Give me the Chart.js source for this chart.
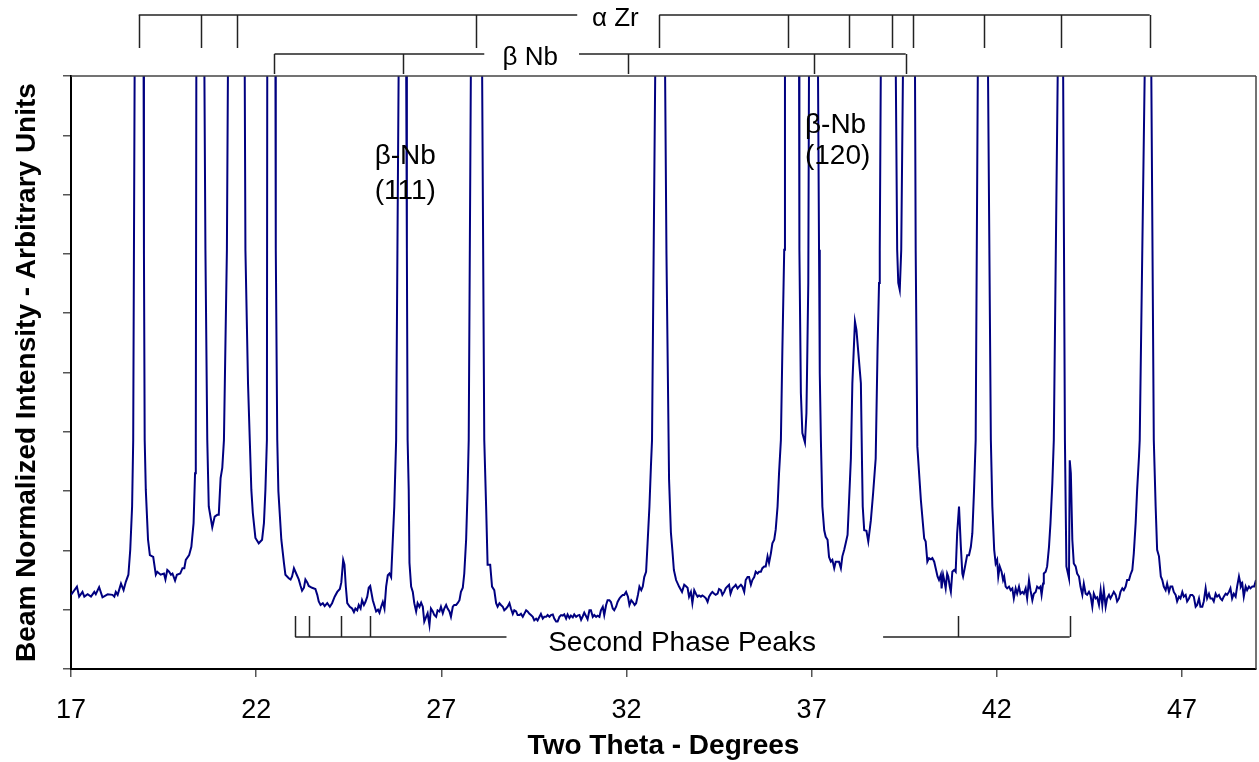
<!DOCTYPE html>
<html>
<head>
<meta charset="utf-8">
<title>Diffraction scan - alpha Zr / beta Nb</title>
<script src="https://cdn.jsdelivr.net/npm/chart.js@4.4.1/dist/chart.umd.min.js"></script>
<style>
    html, body { margin: 0; padding: 0; background: #fff; }
    #wrap { width: 1259px; height: 762px; }
</style>
</head>
<body>
<div id="wrap"><canvas id="scan" width="1259" height="762"></canvas></div>
<script>
/* ============================================= */
/*                  SCAN DATA                    */
/* ============================================= */

// Two theta (degrees); peak tops run off the top of the axis
const twoTheta = [
    17.00, 17.16, 17.22, 17.31, 17.36, 17.45, 17.54, 17.63, 17.67, 17.76, 17.85, 17.99,
    18.12, 18.17, 18.21, 18.26, 18.35, 18.42, 18.48, 18.55, 18.60, 18.65, 18.68,
    18.72, 18.84, 18.96, 18.97, 18.99, 19.02, 19.08, 19.13, 19.22, 19.29, 19.33, 19.42,
    19.51, 19.55, 19.60, 19.65, 19.70, 19.74, 19.81, 19.86, 19.95, 20.01, 20.06, 20.10,
    20.19, 20.25, 20.31, 20.35, 20.37, 20.385, 20.49, 20.60, 20.63, 20.68, 20.72, 20.815,
    20.88, 20.95, 20.99, 21.04, 21.085, 21.13, 21.21, 21.24, 21.47, 21.69, 21.71, 21.78,
    21.87, 21.91, 21.98, 22.07, 22.16, 22.21, 22.25, 22.29, 22.30, 22.41, 22.52, 22.53,
    22.57, 22.60, 22.68, 22.75, 22.79, 22.88, 22.93, 22.97, 23.02, 23.06, 23.15, 23.20,
    23.24, 23.29, 23.33, 23.38, 23.42, 23.51, 23.60, 23.65, 23.69, 23.74, 23.80, 23.85,
    23.92, 23.99, 24.05, 24.12, 24.19, 24.26, 24.30, 24.35, 24.385, 24.42, 24.46, 24.53,
    24.59, 24.64, 24.68, 24.73, 24.77, 24.82, 24.86, 24.91, 24.95, 25.00, 25.04, 25.08,
    25.15, 25.24, 25.29, 25.33, 25.375, 25.42, 25.465, 25.51, 25.555, 25.60, 25.645, 25.69,
    25.73, 25.78, 25.85, 25.95, 26.05, 26.07, 26.09, 26.12, 26.14, 26.185, 26.23, 26.27,
    26.32, 26.36, 26.41, 26.455, 26.50, 26.54, 26.59, 26.63, 26.68, 26.72, 26.77, 26.81,
    26.86, 26.90, 26.95, 26.99, 27.04, 27.08, 27.13, 27.17, 27.22, 27.26, 27.31, 27.35,
    27.40, 27.44, 27.49, 27.53, 27.58, 27.62, 27.67, 27.71, 27.74, 27.80, 27.95, 28.10,
    28.16, 28.21, 28.25, 28.32, 28.37, 28.43, 28.48, 28.52, 28.57, 28.61, 28.66, 28.70,
    28.75, 28.79, 28.84, 28.88, 28.93, 28.97, 29.02, 29.06, 29.11, 29.15, 29.20, 29.24,
    29.29, 29.33, 29.38, 29.42, 29.47, 29.51, 29.56, 29.60, 29.65, 29.69, 29.74, 29.78,
    29.83, 29.87, 29.92, 29.96, 30.01, 30.05, 30.10, 30.14, 30.19, 30.235, 30.28, 30.32,
    30.37, 30.41, 30.46, 30.50, 30.55, 30.59, 30.64, 30.68, 30.73, 30.775, 30.82, 30.86,
    30.91, 30.95, 31.00, 31.04, 31.09, 31.13, 31.18, 31.22, 31.27, 31.31, 31.36, 31.40,
    31.45, 31.49, 31.54, 31.58, 31.63, 31.67, 31.72, 31.76, 31.81, 31.85, 31.90, 31.94,
    31.99, 32.04, 32.08, 32.13, 32.17, 32.22, 32.26, 32.31, 32.35, 32.40, 32.44, 32.48,
    32.53, 32.57, 32.62, 32.66, 32.69, 32.78, 32.91, 33.04, 33.08, 33.15, 33.20, 33.24,
    33.28, 33.34, 33.42, 33.50, 33.56, 33.60, 33.65, 33.69, 33.74, 33.78, 33.83, 33.875,
    33.92, 33.96, 34.01, 34.05, 34.10, 34.145, 34.19, 34.23, 34.28, 34.32, 34.37, 34.41,
    34.46, 34.50, 34.55, 34.59, 34.64, 34.68, 34.72, 34.77, 34.81, 34.86, 34.91, 34.95,
    35.00, 35.04, 35.09, 35.13, 35.18, 35.22, 35.27, 35.31, 35.36, 35.40, 35.45, 35.49,
    35.54, 35.58, 35.63, 35.67, 35.72, 35.76, 35.81, 35.85, 35.90, 35.94, 35.99, 36.03,
    36.08, 36.12, 36.17, 36.21, 36.26, 36.28, 36.47, 36.66, 36.67, 36.71, 36.75, 36.82,
    36.86, 36.885, 36.91, 36.93, 37.05, 37.17, 37.20, 37.22, 37.25, 37.29, 37.34, 37.38,
    37.43, 37.47, 37.52, 37.56, 37.61, 37.65, 37.70, 37.74, 37.79, 37.83, 37.88, 37.92,
    37.97, 38.01, 38.06, 38.10, 38.17, 38.21, 38.33, 38.36, 38.38, 38.42, 38.48, 38.53,
    38.60, 38.66, 38.73, 38.78, 38.82, 38.84, 38.87, 39.07, 39.27, 39.31, 39.34, 39.38,
    39.42, 39.47, 39.63, 39.79, 39.81, 39.855, 39.95, 40.04, 40.08, 40.125, 40.17, 40.22,
    40.26, 40.31, 40.35, 40.40, 40.44, 40.49, 40.51, 40.55, 40.58, 40.62, 40.66, 40.69,
    40.73, 40.76, 40.80, 40.85, 40.89, 40.93, 40.98, 41.03, 41.07, 41.09, 41.14, 41.20,
    41.25, 41.30, 41.34, 41.385, 41.43, 41.49, 41.625, 41.76, 41.84, 41.88, 41.93, 41.97,
    42.01, 42.04, 42.08, 42.13, 42.17, 42.20, 42.24, 42.28, 42.33, 42.375, 42.42, 42.46,
    42.51, 42.55, 42.60, 42.64, 42.69, 42.73, 42.78, 42.82, 42.87, 42.91, 42.96, 43.00,
    43.05, 43.09, 43.14, 43.18, 43.21, 43.25, 43.27, 43.32, 43.36, 43.41, 43.45, 43.50,
    43.54, 43.65, 43.72, 43.79, 43.84, 43.88, 43.95, 43.97, 44.00, 44.04, 44.08, 44.13,
    44.17, 44.22, 44.26, 44.31, 44.35, 44.40, 44.44, 44.49, 44.53, 44.58, 44.62, 44.67,
    44.71, 44.76, 44.805, 44.85, 44.89, 44.94, 44.98, 45.03, 45.07, 45.12, 45.16, 45.21,
    45.25, 45.30, 45.34, 45.39, 45.43, 45.48, 45.52, 45.57, 45.61, 45.66, 45.70, 45.75,
    45.79, 45.84, 45.86, 46.00, 46.085, 46.17, 46.24, 46.29, 46.33, 46.38, 46.43, 46.47,
    46.51, 46.56, 46.60, 46.65, 46.69, 46.74, 46.78, 46.83, 46.87, 46.92, 46.96, 47.01,
    47.05, 47.10, 47.14, 47.19, 47.23, 47.28, 47.32, 47.37, 47.41, 47.46, 47.50, 47.55,
    47.59, 47.64, 47.68, 47.73, 47.77, 47.82, 47.86, 47.91, 47.95, 48.00, 48.04, 48.085,
    48.13, 48.18, 48.22, 48.27, 48.31, 48.355, 48.40, 48.45, 48.49, 48.54, 48.57, 48.59,
    48.63, 48.67, 48.72, 48.76, 48.81, 48.85, 48.90, 48.95, 49.00
];

// Beam normalized intensity (arbitrary units, axis runs 0..10)
const intensity = [
    1.25, 1.39, 1.22, 1.30, 1.22, 1.26, 1.22, 1.30, 1.26, 1.38, 1.21, 1.26,
    1.25, 1.22, 1.30, 1.25, 1.44, 1.33, 1.47, 1.59, 2.01, 2.74, 3.86,
    10.3, 13, 10.3, 7.0, 3.86, 3.02, 2.18, 1.92, 1.89, 1.59, 1.64, 1.59,
    1.61, 1.51, 1.67, 1.64, 1.59, 1.61, 1.49, 1.59, 1.61, 1.70, 1.70, 1.84,
    1.92, 2.06, 2.46, 3.30, 3.86, 10.3, 13, 10.3, 7.07, 3.86, 2.74, 2.39,
    2.57, 2.60, 2.60, 3.22, 3.39, 3.86, 7.07, 10.3, 13, 10.3, 7.07, 4.82,
    3.02, 2.63, 2.21, 2.12, 2.18, 2.46, 3.02, 3.86, 10.3, 13, 10.3, 7.07,
    3.86, 3.00, 2.18, 1.79, 1.59, 1.53, 1.51, 1.56, 1.70, 1.64, 1.51, 1.40,
    1.32, 1.37, 1.51, 1.46, 1.40, 1.37, 1.35, 1.25, 1.14, 1.08, 1.11, 1.06,
    1.11, 1.05, 1.11, 1.22, 1.30, 1.35, 1.46, 1.84, 1.76, 1.40, 1.11, 1.05,
    1.02, 0.96, 1.02, 0.99, 1.08, 1.02, 1.16, 1.08, 1.13, 1.22, 1.37, 1.40,
    1.16, 0.97, 1.00, 0.95, 1.05, 1.13, 1.02, 1.39, 1.58, 1.61, 1.55, 2.18,
    2.74, 3.86, 10.3, 13, 10.3, 7.07, 3.86, 3.02, 1.79, 1.39, 1.30, 1.11,
    0.97, 1.11, 1.05, 1.12, 1.05, 0.80, 0.88, 0.94, 0.74, 1.02, 0.97, 0.91,
    0.88, 0.99, 0.97, 1.05, 0.94, 1.02, 1.08, 1.02, 0.97, 0.88, 1.05, 1.08,
    1.08, 1.11, 1.16, 1.30, 1.37, 1.61, 2.18, 3.02, 3.86, 10.3, 13, 10.3,
    3.86, 2.74, 1.76, 1.76, 1.39, 1.33, 1.11, 1.05, 1.11, 1.08, 1.05, 0.99,
    1.02, 1.05, 1.11, 1.02, 0.93, 0.99, 0.97, 0.91, 0.91, 0.93, 0.88, 0.93,
    0.99, 0.97, 0.93, 0.91, 0.88, 0.82, 0.85, 0.82, 0.88, 0.93, 0.85, 0.88,
    0.88, 0.91, 0.88, 0.91, 0.92, 0.85, 0.80, 0.80, 0.88, 0.91, 0.90, 0.92,
    0.85, 0.92, 0.86, 0.90, 0.87, 0.92, 0.88, 0.90, 0.91, 0.83, 0.89, 0.95,
    0.89, 0.84, 0.99, 0.99, 0.88, 0.91, 0.88, 0.90, 0.88, 0.99, 1.05, 0.91,
    1.08, 1.16, 1.16, 1.13, 1.02, 0.99, 1.05, 1.13, 1.19, 1.22, 1.25, 1.25,
    1.30, 1.22, 1.08, 1.16, 1.13, 1.08, 1.11, 1.25, 1.39, 1.33, 1.39, 1.55,
    1.64, 2.12, 2.74, 3.41, 3.86, 10.3, 13, 10.3, 7.0, 3.2, 2.3, 2.0,
    1.67, 1.50, 1.39, 1.30, 1.42, 1.40, 1.37, 1.22, 1.30, 1.11, 1.33, 1.27,
    1.22, 1.24, 1.22, 1.24, 1.22, 1.19, 1.13, 1.22, 1.27, 1.30, 1.27, 1.25,
    1.27, 1.35, 1.33, 1.25, 1.30, 1.36, 1.39, 1.42, 1.27, 1.36, 1.39, 1.42,
    1.36, 1.39, 1.42, 1.39, 1.30, 1.50, 1.55, 1.55, 1.42, 1.50, 1.55, 1.64,
    1.61, 1.64, 1.64, 1.70, 1.73, 1.73, 1.90, 1.79, 1.95, 2.12, 2.18, 2.35,
    2.74, 3.30, 3.86, 5.38, 7.07, 10.3, 13, 10.3, 7.07, 4.65, 3.98, 3.82,
    4.32, 5.38, 6.51, 10.3, 13, 10.3, 7.07, 4.99, 3.86, 2.74, 2.34, 2.23,
    2.18, 1.89, 1.81, 1.84, 1.70, 1.81, 1.81, 1.81, 1.70, 1.90, 2.01, 2.12,
    2.26, 2.82, 3.55, 4.82, 5.86, 5.72, 4.82, 3.50, 2.74, 2.34, 2.33, 2.15,
    2.51, 2.96, 3.55, 5.38, 6.51, 7.07, 10.3, 13, 10.3, 7.07, 6.51, 6.39,
    7.07, 10.3, 13, 10.3, 7.07, 3.75, 2.85, 2.20, 2.15, 1.81, 1.87, 1.85,
    1.87, 1.81, 1.70, 1.56, 1.50, 1.59, 1.36, 1.59, 1.50, 1.36, 1.61, 1.56,
    1.39, 1.30, 1.64, 1.67, 1.64, 2.29, 2.74, 2.06, 1.61, 1.56, 1.72, 1.92,
    1.92, 2.06, 2.29, 3.00, 3.86, 10.3, 13, 10.3, 3.86, 2.74, 2.01, 1.78,
    1.84, 1.56, 1.73, 1.64, 1.50, 1.56, 1.39, 1.36, 1.39, 1.33, 1.36, 1.19,
    1.36, 1.27, 1.39, 1.27, 1.30, 1.27, 1.36, 1.19, 1.50, 1.33, 1.16, 1.27,
    1.30, 1.39, 1.36, 1.39, 1.25, 1.44, 1.61, 1.64, 1.73, 2.06, 2.46, 3.13,
    3.86, 10.3, 13, 10.3, 3.86, 1.73, 1.53, 3.52, 3.30, 2.18, 1.78, 1.73,
    1.61, 1.56, 1.39, 1.25, 1.44, 1.27, 1.25, 1.30, 1.25, 1.05, 1.27, 1.19,
    1.21, 1.08, 1.33, 1.08, 1.33, 1.05, 1.19, 1.25, 1.19, 1.25, 1.30, 1.25,
    1.14, 1.19, 1.30, 1.36, 1.33, 1.39, 1.50, 1.50, 1.59, 1.67, 1.95, 2.46,
    3.02, 3.58, 3.86, 10.3, 13, 10.3, 3.86, 2.74, 2.01, 1.90, 1.56, 1.50,
    1.39, 1.33, 1.44, 1.30, 1.39, 1.39, 1.30, 1.25, 1.14, 1.22, 1.19, 1.30,
    1.22, 1.25, 1.14, 1.19, 1.25, 1.25, 1.22, 1.05, 1.08, 1.19, 1.05, 1.05,
    1.14, 1.36, 1.19, 1.27, 1.19, 1.19, 1.14, 1.27, 1.22, 1.25, 1.19, 1.16,
    1.22, 1.27, 1.25, 1.30, 1.36, 1.19, 1.27, 1.22, 1.39, 1.56, 1.47, 1.39,
    1.44, 1.22, 1.39, 1.33, 1.39, 1.36, 1.39, 1.39, 1.50
];

// Axis ticks
const xTicks = [17, 22, 27, 32, 37, 42, 47];

// Reflection positions (two theta) marked above / below the scan
const alphaZrPeaks = [18.83, 20.52, 21.49, 27.94, 32.885, 36.37, 38.01, 39.16, 39.74, 41.66, 43.74, 46.13];
const betaNbPeaks = [22.495, 25.97, 32.04, 37.07, 39.54];
const secondPhasePeaks = [23.055, 23.43, 24.30, 25.08, 40.96, 43.97];

if (twoTheta.length !== intensity.length) {
    console.error('length mismatch', twoTheta.length, intensity.length);
}

/* ============================================= */
/*              ANNOTATION PLUGIN                */
/* ============================================= */

const FONT = '"Liberation Sans", Arial, Helvetica, sans-serif';

// Bracket groups: y positions are pixel offsets, gap is where the label sits
const brackets = [
    { marks: alphaZrPeaks, gap: [30.67, 32.885], label: '\u03b1 Zr', labelAt: 31.70, barY: 15, tickY: 48, textY: 19 },
    { marks: betaNbPeaks, gap: [28.16, 30.72], label: '\u03b2 Nb', labelAt: 29.40, barY: 54, tickY: 74, textY: 58 },
    { marks: secondPhasePeaks, gap: [28.76, 38.93], label: 'Second Phase Peaks', labelAt: 33.50, barY: 637, tickY: 616, textY: 643, big: true }
];

// Peak notes inside the plot, anchored in data units (left edge, line centres)
const peakNotes = [
    { x: 25.2, lines: [['\u03b2-Nb', 8.64], ['(111)', 8.06]] },
    { x: 36.82, lines: [['\u03b2-Nb', 9.17], ['(120)', 8.64]] }
];

function strokeLine(ctx, x1, y1, x2, y2) {
    ctx.beginPath();
    ctx.moveTo(x1, y1);
    ctx.lineTo(x2, y2);
    ctx.stroke();
}

const annotations = {
    id: 'annotations',
    afterDraw(chart) {
        const { ctx, chartArea: area, scales: { x, y } } = chart;
        ctx.save();

        // frame on the top and right of the plot
        ctx.strokeStyle = '#444';
        ctx.lineWidth = 1.5;
        strokeLine(ctx, area.left, area.top, area.right, area.top);
        strokeLine(ctx, area.right, area.top, area.right, area.bottom);

        // brackets
        ctx.strokeStyle = '#222';
        ctx.lineWidth = 1.5;
        ctx.fillStyle = '#000';
        ctx.textAlign = 'center';
        ctx.textBaseline = 'middle';
        brackets.forEach(b => {
            const first = x.getPixelForValue(Math.min(...b.marks));
            const last = x.getPixelForValue(Math.max(...b.marks));
            strokeLine(ctx, first, b.barY, x.getPixelForValue(b.gap[0]), b.barY);
            strokeLine(ctx, x.getPixelForValue(b.gap[1]), b.barY, last, b.barY);
            b.marks.forEach(m => {
                const p = Math.round(x.getPixelForValue(m)) + 0.5;
                strokeLine(ctx, p, b.barY, p, b.tickY);
            });
            ctx.font = (b.big ? '28px ' : '26px ') + FONT;
            ctx.fillText(b.label, x.getPixelForValue(b.labelAt), b.textY);
        });

        // peak notes
        ctx.font = '28px ' + FONT;
        ctx.textAlign = 'left';
        peakNotes.forEach(n => {
            n.lines.forEach(([txt, v]) => {
                ctx.fillText(txt, x.getPixelForValue(n.x), y.getPixelForValue(v));
            });
        });

        ctx.restore();
    }
};

/* ============================================= */
/*                 CHART SETUP                   */
/* ============================================= */

const points = twoTheta.map((t, i) => ({ x: t, y: intensity[i] }));

new Chart(document.getElementById('scan'), {
    type: 'line',
    data: {
        datasets: [{
            data: points,
            borderColor: '#000080',
            borderWidth: 2,
            pointRadius: 0,
            tension: 0,
            fill: false
        }]
    },
    options: {
        responsive: false,
        animation: false,
        layout: { padding: { top: 76, right: 3, left: 0, bottom: 0 } },
        plugins: {
            legend: { display: false },
            tooltip: { enabled: false }
        },
        scales: {
            x: {
                type: 'linear',
                min: 17,
                max: 49,
                afterBuildTicks: s => { s.ticks = xTicks.map(v => ({ value: v })); },
                afterFit: s => { s.height = 93; },
                grid: { drawOnChartArea: false, drawTicks: true, tickLength: 8, color: '#555', lineWidth: 1.5 },
                border: { color: '#000', width: 2 },
                ticks: { font: { family: FONT, size: 27 }, color: '#000', padding: 17, maxRotation: 0, autoSkip: false },
                title: {
                    display: true,
                    text: 'Two Theta - Degrees',
                    color: '#000',
                    font: { family: FONT, size: 28, weight: 'bold', lineHeight: 1.1 },
                    padding: { top: 0, bottom: 0 }
                }
            },
            y: {
                min: 0,
                max: 10,
                afterFit: s => { s.width = 71; },
                grid: { drawOnChartArea: false, drawTicks: true, tickLength: 8, color: '#555', lineWidth: 1.5 },
                border: { color: '#000', width: 2 },
                ticks: { stepSize: 1, display: false },
                title: {
                    display: true,
                    text: 'Beam Normalized Intensity - Arbitrary Units',
                    color: '#000',
                    font: { family: FONT, size: 28, weight: 'bold' },
                    padding: { top: 10, bottom: 0 }
                }
            }
        }
    },
    plugins: [annotations]
});
</script>
</body>
</html>
